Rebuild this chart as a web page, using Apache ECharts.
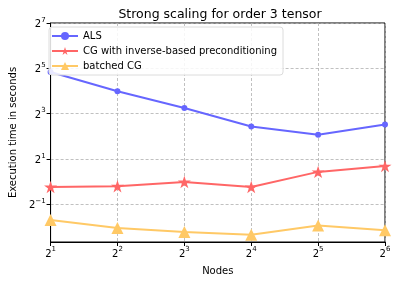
<!DOCTYPE html>
<html>
<head>
<meta charset="utf-8">
<script src="https://cdn.jsdelivr.net/npm/echarts@6/dist/echarts.min.js"></script>
<style>html,body{margin:0;padding:0;background:#fff}#c{width:399px;height:281px}</style>
</head>
<body>
<div id="c"></div>
<script>
const nodes = [2, 4, 8, 16, 32, 64];
const alsTimes = [28.6, 15.9, 9.5, 5.4, 4.2, 5.75];
const cgInvTimes = [0.85, 0.87, 0.99, 0.85, 1.35, 1.61];
const batchedCgTimes = [0.31, 0.243, 0.215, 0.198, 0.262, 0.227];
const seriesNames = ['ALS', 'CG with inverse-based preconditioning', 'batched CG'];
const xTickExps = [1, 2, 3, 4, 5, 6];
const yTickExps = [-1, 1, 3, 5, 7];

const FONT = 'DejaVu Sans';
const starPath = 'path://M50,0L61.17,34.63L97.55,34.55L68.07,55.87L79.39,90.45L50,69L20.61,90.45L31.93,55.87L2.45,34.55L38.83,34.63Z';
const toPts = arr => arr.map((v, i) => [Math.log2(nodes[i]), Math.log2(v)]);
const sup = v => '{b|2}{e|' + String(v).replace('-', '\u2212') + '}';
const rich = {
  b: {fontFamily: FONT, fontSize: 10, color: '#000', verticalAlign: 'bottom', lineHeight: 13},
  e: {fontFamily: FONT, fontSize: 7, color: '#000', verticalAlign: 'top', lineHeight: 11}
};

const chart = echarts.init(document.getElementById('c'), null, {renderer: 'canvas'});
chart.setOption({
  animation: false,
  backgroundColor: '#fff',
  title: {
    text: 'Strong scaling for order 3 tensor',
    left: 215, top: 3, textAlign: 'center',
    textStyle: {fontFamily: FONT, fontSize: 12.5, fontWeight: 'normal', color: '#000'}
  },
  grid: {left: 46, right: 14, top: 23, bottom: 39, show: true, borderColor: '#000', borderWidth: 1, backgroundColor: 'transparent'},
  legend: {
    orient: 'vertical', left: 49, top: 27,
    itemWidth: 26, itemHeight: 10, itemGap: 5,
    padding: [4, 6, 4, 2],
    backgroundColor: 'rgba(255,255,255,0.85)', borderColor: '#dcdcdc', borderWidth: 1, borderRadius: 3,
    textStyle: {fontFamily: FONT, fontSize: 10, color: '#000'},
    data: seriesNames
  },
  xAxis: {
    type: 'value', min: 1, max: 6, interval: 1,
    name: 'Nodes', nameLocation: 'middle', nameGap: 24,
    nameTextStyle: {fontFamily: FONT, fontSize: 10, color: '#000'},
    axisLine: {show: true, onZero: false, lineStyle: {color: '#000', width: 1}},
    axisTick: {show: true, length: 4, lineStyle: {color: '#000'}},
    axisLabel: {formatter: v => sup(v), rich: rich, margin: 4},
    splitLine: {show: true, lineStyle: {color: '#b0b0b0', type: [3, 2], width: 0.8}}
  },
  yAxis: {
    type: 'value', min: -2.66, max: 7,
    name: 'Execution time in seconds', nameLocation: 'middle', nameGap: 31,
    nameTextStyle: {fontFamily: FONT, fontSize: 10, color: '#000'},
    axisLine: {show: true, onZero: false, lineStyle: {color: '#000', width: 1}},
    axisTick: {show: true, length: 4, lineStyle: {color: '#000'}, customValues: yTickExps},
    axisLabel: {formatter: v => sup(v), rich: rich, margin: 5, customValues: yTickExps},
    splitLine: {show: true, lineStyle: {color: '#b0b0b0', type: [3, 2], width: 0.8}}
  },
  series: [
    {name: seriesNames[0], type: 'line', data: toPts(alsTimes), symbol: 'circle', symbolSize: 6,
     lineStyle: {color: '#6666ff', width: 2}, itemStyle: {color: '#6666ff'}},
    {name: seriesNames[1], type: 'line', data: toPts(cgInvTimes), symbol: starPath, symbolKeepAspect: true, symbolSize: 13,
     lineStyle: {color: '#ff6666', width: 2}, itemStyle: {color: '#ff6666'}},
    {name: seriesNames[2], type: 'line', data: toPts(batchedCgTimes), symbol: 'triangle', symbolSize: 12,
     lineStyle: {color: '#ffc966', width: 2}, itemStyle: {color: '#ffc966'}}
  ]
});
</script>
</body>
</html>
